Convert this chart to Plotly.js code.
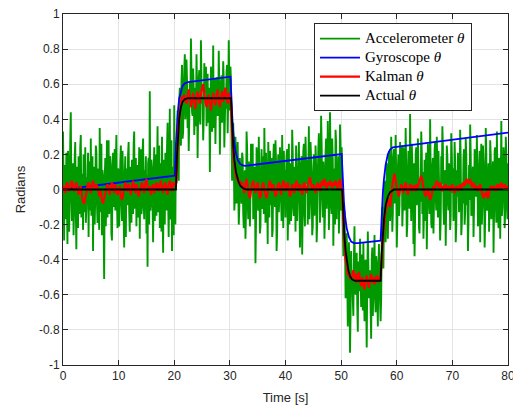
<!DOCTYPE html>
<html>
<head>
<meta charset="utf-8">
<script src="https://cdn.plot.ly/plotly-3.0.1.min.js"></script>
<style>html,body{margin:0;padding:0;background:#fff;}#chart{width:513px;height:410px;}</style>
</head>
<body>
<div id="chart"></div>
<script>
// Sampling of the accelerometer series (0.1 s) and the Kalman series (0.2 s)
const startTime = 0;
const accelStep = 0.1;
const kalmanStep = 0.2;

// Accelerometer theta, one value every 0.1 s from 0 to 80 s
const accelTheta = [
  // 0 - 20.3 s
  0.33,0.05,-0.29,0.14,0.08,-0.17,0.21,-0.08,-0.31,0.22,0.12,-0.24,-0.06,0.27,0.44,0.01,-0.18,-0.05,0.15,-0.26,
  -0.09,0.18,0.27,-0.11,-0.34,0.13,0.06,-0.22,0.19,0.03,-0.14,0.24,0.31,-0.16,-0.02,0.09,-0.23,0.20,0.11,-0.13,
  0.24,-0.19,-0.11,0.07,0.03,0.21,-0.27,0.10,0.16,-0.12,0.29,-0.15,-0.08,0.19,-0.35,0.04,0.13,-0.20,-0.04,0.25,
  0.22,-0.07,-0.19,0.12,0.09,-0.23,0.35,-0.02,-0.13,0.26,-0.26,0.11,0.07,-0.18,-0.51,0.06,0.18,-0.21,0.02,0.28,
  -0.16,0.09,0.28,-0.14,-0.07,0.19,0.14,-0.25,-0.29,0.05,0.21,-0.10,0.04,0.23,-0.12,0.15,0.31,-0.06,-0.22,0.12,
  0.10,-0.21,-0.03,0.16,0.25,-0.08,-0.18,0.22,0.06,-0.15,-0.33,0.08,0.19,-0.27,0.12,-0.04,-0.09,0.20,0.27,-0.12,
  -0.24,0.13,0.08,-0.19,0.17,-0.05,-0.14,0.26,0.33,-0.11,-0.06,0.18,-0.21,0.07,0.14,-0.16,0.02,0.24,-0.28,0.10,
  0.23,-0.14,-0.10,0.21,0.29,-0.06,-0.17,0.11,0.05,0.19,-0.25,0.08,-0.44,0.15,0.18,-0.20,0.56,-0.12,-0.08,0.17,
  0.12,-0.09,-0.30,0.07,0.24,-0.18,0.03,0.20,-0.15,0.09,0.36,-0.13,-0.07,0.25,-0.22,0.06,0.15,-0.24,0.30,-0.11,
  -0.36,0.17,0.09,-0.20,0.21,-0.07,-0.12,0.24,0.38,-0.05,-0.27,0.12,0.46,-0.17,-0.10,0.28,-0.35,0.04,0.13,-0.26,
  0.48,0.10,-0.20,0.27,
  // 20.4 - 22.0 s
  0.15,0.32,0.45,0.18,0.05,0.50,0.58,0.40,0.25,0.62,0.71,0.29,0.33,0.55,0.68,0.77,0.40,
  // 22.1 - 30.0 s
  0.48,0.74,0.62,0.35,0.55,0.22,0.39,0.61,0.51,0.86,0.66,0.44,0.42,0.69,0.57,0.31,0.45,0.58,0.36,0.77,
  0.59,0.18,0.44,0.63,0.68,0.40,0.37,0.85,0.60,0.49,0.53,0.28,0.41,0.72,0.64,0.55,0.70,0.36,0.47,0.66,
  0.38,0.47,0.58,0.10,0.46,0.70,0.61,0.33,0.40,0.82,0.35,0.57,0.63,0.26,0.49,0.64,0.56,0.42,0.43,0.79,
  0.57,0.20,0.41,0.60,0.65,0.38,0.50,0.73,0.62,0.24,0.39,0.55,0.46,0.67,0.71,0.32,0.52,0.85,0.60,0.45,
  // 30.1 - 32.0 s
  0.70,0.62,0.28,0.05,0.14,0.38,0.22,-0.12,-0.05,0.30,0.12,-0.08,0.19,0.27,0.02,-0.20,-0.10,0.18,0.09,-0.05,
  // 32.1 - 50.0 s
  -0.08,0.21,0.18,-0.14,-0.22,0.07,0.11,-0.28,-0.13,0.33,0.24,-0.05,-0.17,0.16,0.09,-0.21,-0.04,0.26,0.15,0.02,
  0.26,-0.17,-0.06,0.12,0.13,-0.42,-0.19,0.24,0.20,-0.08,-0.12,0.30,0.07,-0.25,-0.21,0.09,0.23,-0.11,-0.09,0.19,
  -0.14,0.35,0.09,-0.19,0.21,0.04,-0.05,-0.31,0.27,0.14,-0.16,0.22,0.12,-0.09,0.18,-0.27,-0.23,0.17,0.26,-0.02,
  -0.10,0.28,0.16,-0.35,-0.24,0.11,0.20,-0.13,-0.03,0.24,0.13,-0.06,-0.18,0.31,0.07,-0.22,0.22,0.05,0.11,-0.16,
  0.06,0.19,0.23,-0.29,-0.12,0.26,-0.20,0.01,0.15,-0.18,-0.07,0.34,0.21,-0.10,-0.15,0.13,0.10,-0.24,0.25,0.08,
  -0.18,-0.05,0.11,0.27,0.05,-0.33,-0.14,0.15,0.19,-0.37,-0.09,0.22,0.26,-0.12,-0.21,0.30,0.14,0.03,0.17,-0.20,
  0.09,0.36,-0.17,-0.08,0.27,0.18,0.04,-0.26,-0.21,0.10,0.20,-0.15,-0.06,0.25,0.14,-0.30,-0.19,0.06,0.23,0.32,
  0.12,-0.19,0.02,0.42,0.25,-0.04,-0.16,0.16,0.08,-0.28,-0.13,0.21,0.29,-0.11,0.05,0.39,0.18,-0.23,-0.10,0.44,
  0.21,-0.07,-0.14,0.29,0.16,-0.32,-0.05,0.12,-0.20,0.34,0.27,-0.17,0.13,0.08,0.19,-0.25,-0.09,0.37,0.24,-0.12,
  // 50.1 - 51.9 s
  0.24,0.05,-0.20,-0.38,-0.35,-0.12,-0.30,-0.62,-0.55,-0.25,-0.48,-0.78,-0.60,-0.30,-0.45,-0.93,-0.70,-0.35,-0.58,
  // 52.0 - 57.0 s
  -0.48,-0.63,-0.72,-0.39,-0.21,-0.55,-0.60,-0.47,-0.36,-0.66,-0.81,-0.41,-0.44,-0.58,-0.28,-0.50,-0.67,-0.37,-0.52,-0.69,
  -0.30,-0.56,-0.75,-0.45,-0.40,-0.64,-0.90,-0.51,-0.24,-0.43,-0.62,-0.57,-0.46,-0.68,-0.85,-0.40,-0.33,-0.72,-0.58,-0.49,
  -0.26,-0.61,-0.70,-0.38,-0.42,-0.59,-0.78,-0.46,-0.31,-0.53,-0.64,
  // 57.1 - 59.0 s
  -0.75,-0.62,-0.30,-0.10,-0.22,-0.45,-0.15,0.05,0.02,-0.30,-0.12,0.15,0.10,-0.28,-0.05,0.22,0.18,-0.18,-0.08,0.30,
  // 59.1 - 80.0 s
  0.11,-0.24,-0.13,0.18,0.23,-0.08,-0.04,0.31,0.07,-0.33,-0.19,0.12,0.20,-0.15,-0.09,0.27,0.16,0.02,0.25,-0.21,
  -0.10,0.24,0.19,-0.12,-0.06,0.35,0.13,-0.27,-0.20,0.08,0.22,-0.05,-0.11,0.43,0.05,-0.18,0.26,0.14,0.09,-0.31,
  0.15,-0.38,-0.16,0.20,0.24,-0.09,-0.02,0.29,0.12,-0.22,-0.25,0.06,-0.07,0.33,0.21,-0.14,0.10,-0.28,-0.12,0.17,
  -0.18,0.10,0.21,-0.34,-0.11,0.26,0.17,-0.06,-0.14,0.40,0.08,-0.19,-0.22,0.13,0.18,-0.25,-0.07,0.22,0.27,-0.03,
  -0.12,0.30,0.14,-0.16,0.22,0.05,-0.08,-0.29,-0.17,0.19,0.03,0.36,0.24,-0.11,-0.20,0.08,0.11,-0.32,-0.06,0.25,
  0.19,-0.07,-0.12,0.15,0.08,-0.23,-0.15,0.32,0.20,-0.02,0.12,-0.18,-0.09,0.27,0.16,-0.30,-0.21,0.11,-0.04,0.21,
  0.07,-0.13,-0.05,0.34,0.17,-0.26,-0.19,0.04,-0.08,0.18,0.23,-0.20,-0.13,0.29,0.20,-0.09,0.06,-0.35,-0.17,0.14,
  -0.06,0.37,0.20,-0.15,-0.14,0.09,0.13,-0.27,-0.10,0.23,0.18,-0.04,-0.02,0.31,0.09,-0.21,-0.18,0.12,0.22,-0.30,
  0.12,0.26,-0.20,-0.08,0.25,0.16,0.03,-0.33,-0.16,0.35,0.21,-0.12,-0.11,0.06,0.15,-0.24,-0.05,0.28,0.19,-0.17,
  -0.08,0.10,0.16,-0.36,-0.13,0.22,0.24,-0.05,-0.19,0.33,0.07,-0.14,-0.22,0.18,0.13,-0.28,0.02,0.39,-0.15,-0.10,
  0.05,0.24,0.18,-0.22,-0.12,0.30,0.21,-0.06,-0.17,0.15
];

// Kalman theta, one value every 0.2 s from 0 to 80 s
const kalmanTheta = [
  0.02,0.01,-0.02,0.03,0.04,-0.01,0.00,0.03,0.05,0.02,
  -0.01,0.02,0.04,0.01,-0.03,0.00,0.02,-0.04,-0.07,-0.08,
  -0.05,-0.02,0.02,0.04,0.01,-0.02,0.03,0.05,0.02,0.00,
  0.03,0.01,-0.02,-0.04,-0.01,-0.06,-0.08,-0.05,-0.02,0.01,
  0.03,0.00,-0.03,0.02,0.04,0.01,-0.02,0.03,0.00,-0.03,
  -0.01,0.02,-0.04,-0.06,-0.03,0.01,0.04,0.02,-0.01,0.03,
  0.00,-0.03,0.02,0.05,0.01,-0.02,0.03,0.00,-0.04,-0.01,
  0.02,0.04,0.01,-0.02,0.03,0.06,0.02,-0.01,0.02,-0.03,
  0.00,0.03,-0.02,0.01,0.04,0.02,-0.01,0.03,0.05,0.01,
  -0.02,0.02,0.04,0.00,-0.03,0.03,0.05,0.02,-0.01,0.04,
  0.03,0.02,
  0.04,0.24,0.37,0.44,0.49,0.53,0.50,0.54,0.51,
  0.49,0.53,0.57,0.52,0.47,0.50,0.55,0.51,0.46,0.52,
  0.56,0.53,0.49,0.54,0.58,0.60,0.55,0.50,0.47,0.51,
  0.54,0.49,0.45,0.50,0.55,0.52,0.48,0.53,0.57,0.51,
  0.47,0.52,0.56,0.50,0.54,0.58,0.53,0.49,0.55,0.52,
  0.48,0.33,0.21,0.14,0.10,0.06,0.07,0.03,0.05,0.02,
  0.04,0.01,-0.02,0.03,0.06,0.02,-0.03,-0.05,-0.01,0.03,
  0.05,0.02,-0.02,0.01,0.04,-0.01,-0.05,-0.03,0.02,0.04,
  0.01,-0.03,-0.05,-0.02,0.03,0.05,0.02,-0.01,0.03,0.00,
  -0.04,-0.02,0.02,0.04,0.01,-0.03,0.02,0.05,0.03,-0.01,
  0.02,0.04,0.00,-0.04,-0.02,0.03,0.01,-0.02,0.03,0.05,
  0.02,-0.01,0.03,0.00,-0.03,0.02,0.04,0.01,-0.02,0.02,
  0.05,0.07,0.03,0.00,0.03,0.01,-0.02,0.02,0.04,0.02,
  -0.01,0.03,0.05,0.02,0.06,0.03,0.00,0.04,0.02,0.05,
  0.03,0.01,0.04,0.02,0.05,0.03,0.00,0.04,0.06,0.02,
  -0.01,-0.17,-0.30,-0.40,-0.43,-0.49,-0.47,-0.51,-0.50,
  -0.49,-0.46,-0.51,-0.48,-0.53,-0.50,-0.47,-0.52,-0.55,-0.50,
  -0.54,-0.57,-0.52,-0.49,-0.53,-0.56,-0.51,-0.48,-0.53,-0.50,
  -0.54,-0.51,-0.49,-0.53,-0.50,-0.52,
  -0.45,-0.33,-0.24,-0.18,-0.12,-0.09,-0.05,-0.07,-0.10,-0.04,
  0.02,0.06,0.09,0.05,0.01,-0.02,-0.04,0.00,0.03,0.01,
  -0.02,0.02,0.04,0.01,-0.03,0.00,0.03,0.02,-0.01,0.02,
  0.02,-0.01,0.03,0.01,0.04,0.06,0.08,0.05,0.01,-0.02,
  -0.04,-0.02,0.01,-0.03,-0.06,-0.04,-0.01,0.02,0.00,0.03,
  0.05,0.03,0.01,0.04,0.02,-0.01,0.02,0.00,0.03,0.01,
  0.00,0.02,-0.01,0.01,0.03,0.00,-0.02,0.01,0.02,-0.01,
  0.01,0.03,0.00,0.02,0.04,0.02,0.05,0.06,0.03,0.04,
  0.06,0.03,0.01,0.04,0.02,0.00,0.02,-0.01,0.01,0.03,
  0.00,-0.03,-0.05,-0.02,-0.04,-0.01,-0.05,-0.02,0.01,0.02,
  0.00,0.02,0.01,-0.01,0.02,0.03,0.00,0.02,0.04,0.01,
  0.02,0.03,0.00,0.02,0.01
];

// Gyroscope theta (breakpoints)
const gyroTime  = [0,20.1,20.3,20.5,20.7,20.9,21.2,21.5,21.9,22.5,30.1,30.3,30.5,30.7,31.0,31.4,31.8,32.3,32.8,50.1,50.3,50.5,50.7,51.0,51.4,51.8,52.3,53.0,57.1,57.3,57.5,57.7,58.0,58.4,58.8,59.3,80];
const gyroTheta = [0,0.079,0.25,0.38,0.46,0.52,0.565,0.59,0.605,0.612,0.643,0.48,0.37,0.29,0.22,0.17,0.147,0.137,0.135,0.202,0.04,-0.07,-0.15,-0.22,-0.27,-0.297,-0.305,-0.306,-0.292,-0.13,-0.02,0.06,0.14,0.2,0.228,0.24,0.324];

// Actual theta
const actualTime  = [0,20.3,20.5,20.7,20.9,21.2,21.5,21.9,22.5,30.2,30.4,30.6,30.8,31.1,31.5,31.9,32.5,33,50.2,50.4,50.6,50.8,51.0,51.3,51.6,52.0,52.5,57.1,57.3,57.5,57.7,58.0,58.4,58.8,59.5,80];
const actualTheta = [0,0,0.2,0.33,0.41,0.47,0.5,0.515,0.52,0.52,0.36,0.25,0.17,0.1,0.05,0.02,0.005,0,0,-0.16,-0.27,-0.35,-0.41,-0.46,-0.495,-0.513,-0.52,-0.52,-0.36,-0.25,-0.17,-0.09,-0.04,-0.015,0,0];

// Axis ticks
const xTickVals = [0,10,20,30,40,50,60,70,80];
const xTickText = ['0','10','20','30','40','50','60','70','80'];
const yTickVals = [1,0.8,0.6,0.4,0.2,0,-0.2,-0.4,-0.6,-0.8,-1];
const yTickText = ['1','0.8','0.6','0.4','0.2','0','-0.2','-0.4','-0.6','-0.8','-1'];

// Legend labels
const seriesNames = ['Accelerometer', 'Gyroscope', 'Kalman', 'Actual'];

const accelTime = accelTheta.map((_, i) => +(startTime + i * accelStep).toFixed(2));
const kalmanTime = kalmanTheta.map((_, i) => +(startTime + i * kalmanStep).toFixed(2));
const legendLabel = s => '<span style="font-size:15px">' + s + ' <i>θ</i></span>';

const traces = [
  {x: accelTime, y: accelTheta, type: 'scatter', mode: 'lines', name: legendLabel(seriesNames[0]),
   line: {color: '#009900', width: 1.9, simplify: false}},
  {x: gyroTime, y: gyroTheta, type: 'scatter', mode: 'lines', name: legendLabel(seriesNames[1]),
   line: {color: '#0000ff', width: 1.8}},
  {x: kalmanTime, y: kalmanTheta, type: 'scatter', mode: 'lines', name: legendLabel(seriesNames[2]),
   line: {color: '#ff0000', width: 2.2, simplify: false}},
  {x: actualTime, y: actualTheta, type: 'scatter', mode: 'lines', name: legendLabel(seriesNames[3]),
   line: {color: '#000000', width: 1.8}}
];

const axisCommon = {
  showline: true, linecolor: '#262626', linewidth: 1, mirror: 'ticks',
  ticks: 'inside', ticklen: 5, tickcolor: '#262626', tickwidth: 1,
  showgrid: true, gridcolor: '#e3e3e3', gridwidth: 1, zeroline: false,
  tickfont: {family: 'Liberation Sans, Arial, sans-serif', size: 12, color: '#262626'},
  tickmode: 'array', ticklabeloverflow: 'allow'
};

const layout = {
  width: 513, height: 410,
  margin: {l: 63, r: 5, t: 14, b: 45},
  paper_bgcolor: '#ffffff', plot_bgcolor: '#ffffff',
  showlegend: true,
  xaxis: Object.assign({}, axisCommon, {
    range: [0, 80], tickvals: xTickVals, ticktext: xTickText,
    title: {text: 'Time [s]', font: {family: 'Liberation Sans, Arial, sans-serif', size: 13, color: '#262626'}, standoff: 10}
  }),
  yaxis: Object.assign({}, axisCommon, {
    range: [-1, 1], tickvals: yTickVals, ticktext: yTickText,
    title: {text: 'Radians', font: {family: 'Liberation Sans, Arial, sans-serif', size: 13, color: '#262626'}, standoff: 10}
  }),
  legend: {
    x: 0.564, y: 0.974, xanchor: 'left', yanchor: 'top',
    bgcolor: '#ffffff', bordercolor: '#262626', borderwidth: 1,
    font: {family: 'Liberation Serif, DejaVu Serif, serif', size: 11, color: '#000000'},
    itemwidth: 40, tracegroupgap: 0
  }
};

Plotly.newPlot('chart', traces, layout, {displayModeBar: false, staticPlot: true});
</script>
</body>
</html>
